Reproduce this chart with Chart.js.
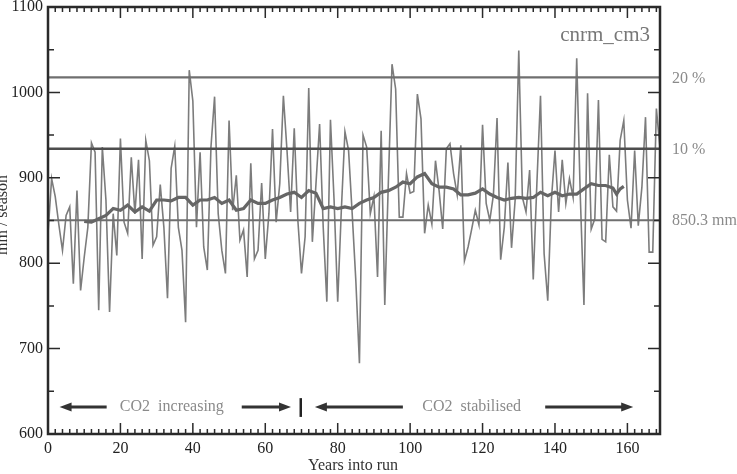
<!DOCTYPE html>
<html>
<head>
<meta charset="utf-8">
<script src="https://cdn.jsdelivr.net/npm/chart.js@4.4.1/dist/chart.umd.min.js"></script>
<style>
  html, body { margin: 0; padding: 0; background: #fff; }
  #wrap { width: 737px; height: 474px; }
</style>
</head>
<body>
<div id="wrap"><canvas id="rainChart"></canvas></div>
<script>
// Seasonal rainfall, one value per model year (mm / season)
const years = [];
for (let i = 0; i <= 169; i++) years.push(i);

const rainfall = [
  835, 899, 878, 845, 815, 856, 866, 776, 885, 768,
  807, 842, 941, 930, 745, 936, 874, 743, 858, 809,
  946, 848, 835, 924, 858, 921, 805, 944, 920, 821,
  831, 892, 842, 759, 911, 937, 842, 815, 731, 1026,
  990, 842, 930, 819, 792, 936, 995, 858, 815, 788,
  967, 862, 903, 827, 839, 784, 917, 805, 815, 894,
  805, 858, 957, 848, 893, 996, 932, 860, 958, 850,
  788, 831, 1005, 825, 893, 963, 842, 755, 968, 874,
  755, 862, 954, 932, 858, 780, 683, 950, 936, 858,
  878, 784, 955, 751, 897, 1033, 1004, 854, 854, 905,
  882, 884, 998, 969, 835, 868, 846, 920, 885, 840,
  934, 940, 905, 880, 938, 803, 819, 840, 862, 845,
  962, 870, 850, 880, 970, 804, 842, 918, 818, 874,
  1049, 877, 860, 909, 781, 893, 996, 811, 756, 874,
  932, 860, 921, 870, 899, 877, 1040, 877, 751, 999,
  840, 852, 991, 828, 825, 927, 866, 861, 944, 967,
  874, 841, 932, 844, 889, 971, 813, 813, 981, 935
];

// Smoothed curve
const smoothYears = [
  10, 12, 14, 16, 18, 20, 22, 24, 26, 28, 30, 32, 34, 36, 38, 40, 42, 44, 46, 48,
  50, 52, 54, 56, 58, 60, 62, 64, 66, 68, 70, 72, 74, 76, 78, 80, 82, 84, 86, 88,
  90, 92, 94, 96, 98, 100, 102, 104, 106, 108, 110, 112, 114, 116, 118, 120, 122, 124, 126, 128,
  130, 132, 134, 136, 138, 140, 142, 144, 146, 148, 150, 152, 154, 156, 157, 158, 159
];
const smoothValues = [
  849, 848, 852, 856, 864, 862, 868, 860, 866, 861, 874, 874, 873, 877, 877, 868, 874, 874, 877, 870,
  874, 862, 864, 874, 870, 870, 874, 877, 881, 883, 877, 885, 882, 864, 866, 864, 866, 864, 870, 874,
  877, 883, 885, 889, 895, 893, 901, 905, 893, 889, 889, 887, 880, 880, 882, 887, 881, 877, 874, 876,
  877, 876, 877, 883, 879, 883, 879, 881, 881, 887, 893, 891, 891, 888, 881, 887, 890
];

// Reference levels and their labels
const refLevels = [1017.5, 934, 850.3];
const refLabels = ['20 %', '10 %', '850.3 mm'];
const refColors = ['#6f6f6f', '#4d4d4d', '#6f6f6f'];

const xTicks = [0, 20, 40, 60, 80, 100, 120, 140, 160];
const yTicks = [600, 700, 800, 900, 1000, 1100];
const xMax = 169;

const SERIF = '"Liberation Serif", "DejaVu Serif", serif';

// Ticks pointing inward, frame, and text annotations
const framePlugin = {
  id: 'framePlugin',
  afterDatasetsDraw(chart) {
    const { ctx, chartArea: a, scales: { x, y } } = chart;
    ctx.save();

    // x ticks (bottom and top)
    ctx.strokeStyle = '#2a2a2a';
    ctx.lineWidth = 1.5;
    ctx.beginPath();
    for (let v = 0; v <= xMax; v += 2) {
      const px = x.getPixelForValue(v);
      const len = v % 20 === 0 ? 11 : 5;
      ctx.moveTo(px, a.bottom); ctx.lineTo(px, a.bottom - len);
      ctx.moveTo(px, a.top); ctx.lineTo(px, a.top + len);
    }
    // y ticks (left and right)
    for (let v = 600; v <= 1100; v += 50) {
      const py = y.getPixelForValue(v);
      const len = v % 100 === 0 ? 12 : 6;
      ctx.moveTo(a.left, py); ctx.lineTo(a.left + len, py);
      ctx.moveTo(a.right, py); ctx.lineTo(a.right - len, py);
    }
    ctx.stroke();

    // frame
    ctx.lineWidth = 2.5;
    ctx.strokeRect(a.left, a.top, a.right - a.left, a.bottom - a.top);

    // labels of the reference lines
    ctx.fillStyle = '#8a8a8a';
    ctx.font = '16px ' + SERIF;
    ctx.textAlign = 'left';
    ctx.textBaseline = 'middle';
    refLevels.forEach((lv, i) => {
      ctx.fillText(refLabels[i], a.right + 12, y.getPixelForValue(lv) + 1);
    });

    // model name
    ctx.fillStyle = '#777';
    ctx.font = '21px ' + SERIF;
    ctx.textAlign = 'right';
    ctx.fillText('cnrm_cm3', a.right - 10, a.top + 28);

    // phase annotations
    const yArrow = y.getPixelForValue(631.5);
    ctx.fillStyle = '#8a8a8a';
    ctx.font = '16px ' + SERIF;
    ctx.textAlign = 'center';
    ctx.fillText('CO2  increasing', x.getPixelForValue(34.2), yArrow);
    ctx.fillText('CO2  stabilised', x.getPixelForValue(117), yArrow);

    const arrow = (from, to) => {
      const x1 = x.getPixelForValue(from);
      const x2 = x.getPixelForValue(to);
      const dir = x2 > x1 ? 1 : -1;
      ctx.strokeStyle = '#333';
      ctx.fillStyle = '#333';
      ctx.lineWidth = 3;
      ctx.beginPath();
      ctx.moveTo(x1, yArrow);
      ctx.lineTo(x2 - dir * 8, yArrow);
      ctx.stroke();
      ctx.beginPath();
      ctx.moveTo(x2, yArrow);
      ctx.lineTo(x2 - dir * 12, yArrow - 4.5);
      ctx.lineTo(x2 - dir * 12, yArrow + 4.5);
      ctx.closePath();
      ctx.fill();
    };
    arrow(16.2, 3.2);
    arrow(53.5, 67.1);
    arrow(98.0, 73.7);
    arrow(137.3, 161.6);

    // divider between the two phases
    ctx.strokeStyle = '#222';
    ctx.lineWidth = 2.5;
    ctx.beginPath();
    const xd = x.getPixelForValue(69.8);
    ctx.moveTo(xd, y.getPixelForValue(642));
    ctx.lineTo(xd, y.getPixelForValue(620));
    ctx.stroke();

    // axis titles
    ctx.fillStyle = '#333';
    ctx.font = '16px ' + SERIF;
    ctx.textAlign = 'center';
    ctx.fillText('Years into run', (a.left + a.right) / 2 - 1, 466);
    ctx.translate(3, 215);
    ctx.rotate(-Math.PI / 2);
    ctx.fillText('mm / season', 0, 0);

    ctx.restore();
  }
};

const ctx = document.getElementById('rainChart');

const datasets = [
  {
    label: 'smoothed',
    data: smoothYears.map((yr, i) => ({ x: yr, y: smoothValues[i] })),
    borderColor: '#666666',
    borderWidth: 3.2,
    pointRadius: 0,
    tension: 0
  }
];
refLevels.forEach((lv, i) => {
  datasets.push({
    label: refLabels[i],
    data: [{ x: 0, y: lv }, { x: xMax, y: lv }],
    borderColor: refColors[i],
    borderWidth: i === 1 ? 2.6 : 2.2,
    pointRadius: 0
  });
});
datasets.push({
  label: 'annual',
  data: years.map((yr, i) => ({ x: yr, y: rainfall[i] })),
  borderColor: '#7c7c7c',
  borderWidth: 1.6,
  pointRadius: 0,
  tension: 0
});

new Chart(ctx, {
  type: 'line',
  data: { datasets: datasets },
  options: {
    responsive: true,
    maintainAspectRatio: false,
    animation: false,
    layout: { padding: { top: 7, right: 77, bottom: 0, left: 0 } },
    plugins: {
      legend: { display: false },
      tooltip: { enabled: false }
    },
    scales: {
      x: {
        type: 'linear',
        min: 0,
        max: xMax,
        afterBuildTicks: s => { s.ticks = xTicks.map(v => ({ value: v })); },
        afterFit: s => { s.height = 40; s.paddingLeft = 0; s.paddingRight = 0; },
        grid: { display: false, drawTicks: false },
        border: { display: false },
        ticks: {
          color: '#222',
          padding: 5,
          maxRotation: 0,
          callback: v => String(v),
          font: { family: SERIF, size: 16 }
        }
      },
      y: {
        min: 600,
        max: 1100,
        afterBuildTicks: s => { s.ticks = yTicks.map(v => ({ value: v })); },
        afterFit: s => { s.width = 48; s.paddingTop = 0; s.paddingBottom = 0; },
        grid: { display: false, drawTicks: false },
        border: { display: false },
        ticks: {
          color: '#222',
          padding: 5,
          callback: v => String(v),
          font: { family: SERIF, size: 16 }
        }
      }
    }
  },
  plugins: [framePlugin]
});
</script>
</body>
</html>
